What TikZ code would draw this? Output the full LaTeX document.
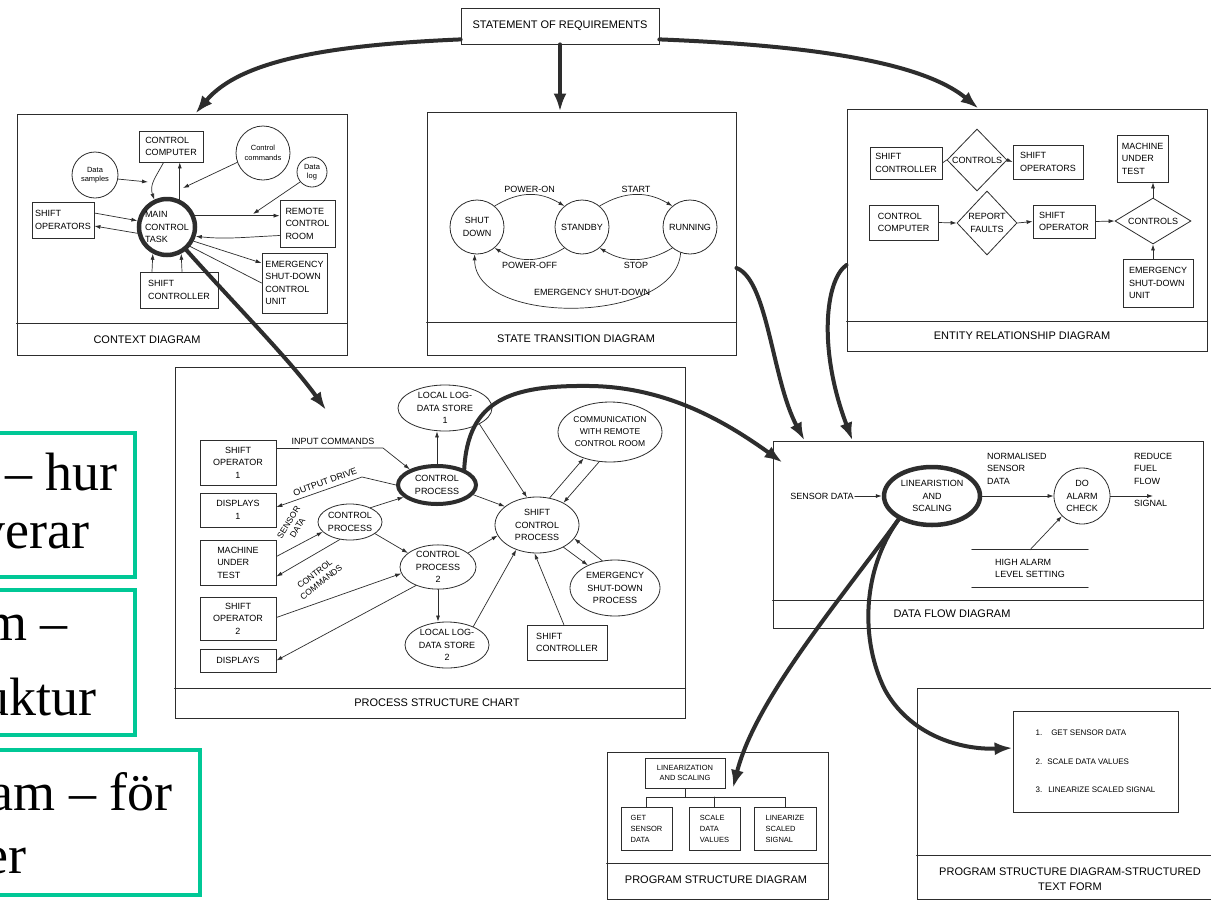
\documentclass[tikz,border=0pt]{standalone}
\usepackage{fontspec}
\setmainfont{Liberation Sans}
\newfontfamily\serfont{Liberation Serif}
\usepackage{tikz}
\usetikzlibrary{arrows.meta,calc,shapes.geometric}
\definecolor{notegreen}{RGB}{0,200,150}
\definecolor{inkgrey}{RGB}{45,45,45}
\newcommand{\lblfont}{\fontsize{9}{12.5}\selectfont}
\newcommand{\ttlfont}{\fontsize{11}{14.5}\selectfont}
\newcommand{\smlfont}{\fontsize{7.5}{9.5}\selectfont}

\begin{document}
\begin{tikzpicture}[x=1pt,y=-1pt,>=Latex,line cap=round,
 panel/.style={draw=inkgrey,line width=1pt,inner sep=0pt},
 divider/.style={draw=inkgrey,line width=1pt},
 ttl/.style={font=\ttlfont,inner sep=1pt},
 lbl/.style={font=\lblfont,inner sep=1pt},
 ebox/.style={draw=inkgrey,line width=.8pt,font=\lblfont,align=left,inner sep=2pt},
 proc/.style={draw=inkgrey,ellipse,line width=.8pt,font=\lblfont,align=center,inner sep=0pt},
 circnode/.style={draw=inkgrey,circle,line width=.8pt,font=\lblfont,align=center,inner sep=0pt},
 rel/.style={draw=inkgrey,diamond,line width=.8pt,font=\lblfont,align=center,inner sep=0pt},
 link/.style={draw=inkgrey,line width=.7pt},
 flow/.style={link,-{Latex[length=6pt,width=4pt]}},
 bigflow/.style={draw=inkgrey,line width=4pt,-{Latex[length=18pt,width=13pt]}},
 note/.style={draw=notegreen,line width=4pt},
 notetxt/.style={font=\serfont\fontsize{54}{60}\selectfont,anchor=base east,inner sep=0pt}]
\useasboundingbox (0,0) rectangle (1211,900);
\fill[white] (0,0) rectangle (1211,900);

\draw[note] (-20,433) rectangle (135,577);
\draw[note] (-20,590) rectangle (135,735);
\draw[note] (-20,750) rectangle (200,895);
\node[notetxt] (n1a) at (118,490) {– hur};
\node[notetxt] (n1b) at (90,548) {verar};
\node[notetxt] (n2a) at (68,640) {m –};
\node[notetxt] (n2b) at (97,715) {uktur};
\node[notetxt] (n3a) at (173,810) {am – för};
\node[notetxt] (n3b) at (27,873) {er};

\node[ebox,font=\ttlfont,align=center,minimum width=198,minimum height=36] (req) at (560,26) {STATEMENT OF REQUIREMENTS};

\node[panel,minimum width=330,minimum height=241] (ctx) at (182,234.5) {};
\draw[divider] ([yshift=32pt]ctx.south west) -- ([yshift=32pt]ctx.south east);
\node[ttl] (ctxt) at (147,340) {CONTEXT DIAGRAM};
\node[ebox,minimum width=64,minimum height=31] (ccomp) at (171,146.5) {CONTROL\\COMPUTER};
\node[circnode,font=\smlfont,minimum size=54] (ccmd) at (263,153) {Control\\commands};
\node[circnode,font=\smlfont,minimum size=30] (dlog) at (312,172) {Data\\log};
\node[circnode,font=\smlfont,minimum size=46] (dsamp) at (95,175) {Data\\samples};
\node[ebox,minimum width=62,minimum height=36] (sops) at (63,220) {SHIFT\\OPERATORS};
\node[circnode,line width=4.5pt,align=left,minimum size=56] (mtask) at (167,227) {MAIN\\CONTROL\\TASK};
\node[ebox,minimum width=55,minimum height=47] (rroom) at (307.5,223.5) {REMOTE\\CONTROL\\ROOM};
\node[ebox,minimum width=65,minimum height=60] (esdu) at (294.5,283) {EMERGENCY\\SHUT-DOWN\\CONTROL\\UNIT};
\node[ebox,minimum width=78,minimum height=36] (sctl) at (179,290) {SHIFT\\CONTROLLER};
\coordinate (cjoin) at (148,182);
\coordinate (cin) at (183,188);
\coordinate (rjoin) at (253,214);
\draw[flow] (dsamp.-10) -- (cjoin);
\draw[flow] (ccomp.-115) .. controls +(-8,15) and +(-5,-15) .. (mtask.115);
\draw[flow] (mtask.65) -- (mtask.65 |- ccomp.south);
\draw[flow] (ccmd.200) -- (cin);
\draw[flow] (dlog.220) -- (rjoin);
\draw[flow] ([yshift=7pt]sops.east) -- (mtask.168);
\draw[flow] (mtask.192) -- ([yshift=-6pt]sops.east);
\draw[flow] (mtask.22) -- (mtask.22 -| rroom.west);
\draw[flow] ([yshift=-12pt]rroom.west) .. controls +(-40,2) and +(30,3) .. (mtask.-18);
\draw[flow] (mtask.-28) -- ([yshift=20pt]esdu.west);
\draw[link] (mtask.-40) -- (esdu.west);
\draw[flow] ([xshift=-27pt]sctl.north) -- (mtask.-118);
\draw[flow] ([xshift=3pt]sctl.north) -- (mtask.-62);

\node[panel,minimum width=309,minimum height=243] (std) at (581.5,233.5) {};
\draw[divider] ([yshift=33pt]std.south west) -- ([yshift=33pt]std.south east);
\node[ttl] (stdt) at (576,339) {STATE TRANSITION DIAGRAM};
\node[circnode,minimum size=54] (sdown) at (477,227) {SHUT\\DOWN};
\node[circnode,minimum size=54] (stby) at (582,227) {STANDBY};
\node[circnode,minimum size=54] (run) at (690,227) {RUNNING};
\draw[flow] (sdown.50) .. controls +(25,-15) and +(-25,-15) .. node[lbl,above=1pt] (lpon) {POWER-ON} (stby.130);
\draw[flow] (stby.50) .. controls +(25,-15) and +(-25,-15) .. node[lbl,above=1pt] (lstart) {START} (run.130);
\draw[flow] (stby.-130) .. controls +(-25,15) and +(25,15) .. node[lbl,below=2pt] (lpoff) {POWER-OFF} (sdown.-50);
\draw[flow] (run.-130) .. controls +(-25,15) and +(25,15) .. node[lbl,below=2pt] (lstop) {STOP} (stby.-50);
\draw[flow] (run.-110) .. controls +(-5,72) and +(0,72) .. (sdown.-95);
\node[lbl] (lesd) at (592,292) {EMERGENCY SHUT-DOWN};

\node[panel,minimum width=360,minimum height=242] (erd) at (1027,230) {};
\draw[divider] ([yshift=30pt]erd.south west) -- ([yshift=30pt]erd.south east);
\node[ttl] (erdt) at (1022,336) {ENTITY RELATIONSHIP DIAGRAM};
\node[ebox,minimum width=72,minimum height=32] (erctl) at (906,163) {SHIFT\\CONTROLLER};
\node[rel,minimum width=60,minimum height=62] (erc1) at (977,160) {CONTROLS};
\node[ebox,minimum width=70,minimum height=34] (ersop) at (1048,162) {SHIFT\\OPERATORS};
\node[ebox,minimum width=69,minimum height=35] (ercomp) at (903.5,222.5) {CONTROL\\COMPUTER};
\node[rel,minimum width=60,minimum height=64] (erfault) at (987,223) {REPORT\\FAULTS};
\node[ebox,minimum width=62,minimum height=33] (ersop1) at (1064,221.5) {SHIFT\\OPERATOR};
\node[rel,aspect=1.65,minimum width=76,minimum height=46] (erc2) at (1153,221) {CONTROLS};
\node[ebox,minimum width=51,minimum height=47] (ermach) at (1142.5,158.5) {MACHINE\\UNDER\\TEST};
\node[ebox,minimum width=70,minimum height=48] (eresd) at (1158,283) {EMERGENCY\\SHUT-DOWN\\UNIT};
\draw[link] (erctl.east) -- (erc1.west);
\draw[flow] (erc1.east) -- (ersop.west);
\draw[flow] (ercomp.east) -- (erfault.west);
\draw[flow] (erfault.east) -- (ersop1.west);
\draw[flow] (ersop1.east) -- (erc2.west);
\draw[flow] (erc2.north) -- (erc2.north |- ermach.south);
\draw[flow] (erc2.south |- eresd.north) -- (erc2.south);

\node[panel,minimum width=510,minimum height=351] (psc) at (430,542.5) {};
\draw[divider] ([yshift=30pt]psc.south west) -- ([yshift=30pt]psc.south east);
\node[ttl] (psct) at (437,703) {PROCESS STRUCTURE CHART};
\node[ebox,align=center,minimum width=76,minimum height=45] (pso1) at (238,462.5) {SHIFT\\OPERATOR\\1};
\node[ebox,align=center,minimum width=76,minimum height=34] (pdisp1) at (238,510) {DISPLAYS\\1};
\node[ebox,minimum width=76,minimum height=45] (pmach) at (238,562.5) {MACHINE\\UNDER\\TEST};
\node[ebox,align=center,minimum width=76,minimum height=43] (pso2) at (238,618.5) {SHIFT\\OPERATOR\\2};
\node[ebox,align=center,minimum width=76,minimum height=23] (pdisp) at (238,660.5) {DISPLAYS};
\node[proc,minimum width=94,minimum height=46] (plog1) at (445,408) {LOCAL LOG-\\DATA STORE\\1};
\node[proc,line width=4pt,minimum width=78,minimum height=38] (pcp) at (437,485) {CONTROL\\PROCESS};
\node[proc,minimum width=64,minimum height=36] (pcpa) at (350,522) {CONTROL\\PROCESS};
\node[proc,minimum width=76,minimum height=44] (pcp2) at (438,567) {CONTROL\\PROCESS\\2};
\node[proc,minimum width=84,minimum height=56] (pscp) at (537,525) {SHIFT\\CONTROL\\PROCESS};
\node[proc,font=\fontsize{8.5}{12}\selectfont,minimum width=104,minimum height=60] (pcomm) at (610,432) {COMMUNICATION\\WITH REMOTE\\CONTROL ROOM};
\node[proc,minimum width=90,minimum height=56] (pesd) at (615,588) {EMERGENCY\\SHUT-DOWN\\PROCESS};
\node[proc,minimum width=84,minimum height=46] (plog2) at (447,645) {LOCAL LOG-\\DATA STORE\\2};
\node[ebox,minimum width=80,minimum height=35] (psctl) at (567,642.5) {SHIFT\\CONTROLLER};
\draw[flow] ([yshift=14pt]pso1.east) -- (383,448) -- (pcp.150);
\node[lbl] (licmd) at (333,441) {INPUT COMMANDS};
\draw[flow] (pcp.west) -- (362,477) -- ([yshift=3pt]pdisp1.east);
\node[lbl,rotate=20] (lodrv) at (325,482) {OUTPUT DRIVE};
\draw[flow] (pcp.north) -- (pcp.north |- plog1.south);
\draw[flow] (pcp.-15) -- (pscp.150);
\draw[flow] (plog1.-25) -- (pscp.110);
\draw[flow] (pcpa.35) -- (pcp.-160);
\draw[flow] ([yshift=6pt]pmach.east) -- (pcpa.200);
\node[lbl,rotate=58,align=center,font=\fontsize{8.5}{10.5}\selectfont] (lsens) at (293,525) {SENSOR\\DATA};
\draw[flow] (pcpa.-120) -- ([yshift=-14pt]pmach.east);
\node[lbl,rotate=38,align=center,font=\fontsize{8.5}{10.5}\selectfont] (lccmd) at (318,578) {CONTROL\\COMMANDS};
\draw[flow] (pcpa.-25) -- (pcp2.155);
\draw[flow] ([yshift=1pt]pso2.east) -- (pcp2.190);
\draw[flow] (pcp2.-140) -- (pdisp.east);
\draw[flow] (pcp2.south) -- (pcp2.south |- plog2.north);
\draw[flow] (pcp2.25) -- (pscp.-165);
\draw[flow] (plog2.35) -- (pscp.-130);
\draw[flow] (psctl.100) -- (pscp.-95);
\draw[flow] (pscp.65) -- (pcomm.-135);
\draw[flow] (pcomm.-110) -- (pscp.40);
\draw[flow] (pscp.-40) -- (pesd.140);
\draw[flow] (pesd.115) -- (pscp.-20);

\node[panel,minimum width=430,minimum height=187] (dfd) at (988,534.5) {};
\draw[divider] ([yshift=28pt]dfd.south west) -- ([yshift=28pt]dfd.south east);
\node[ttl] (dfdt) at (952,614) {DATA FLOW DIAGRAM};
\node[lbl] (dsens) at (822,496) {SENSOR DATA};
\node[proc,line width=4.5pt,minimum width=96,minimum height=58] (dlin) at (932,496) {LINEARISTION\\AND\\SCALING};
\node[circnode,minimum size=56] (dalarm) at (1082,496) {DO\\ALARM\\CHECK};
\node[lbl,align=left,anchor=north west] (dnorm) at (986,452) {NORMALISED\\SENSOR\\DATA};
\node[lbl,align=left,anchor=north west] (dreduce) at (1133,452) {REDUCE\\FUEL\\FLOW\\[10pt]SIGNAL};
\coordinate (dout) at (1153,496);
\node[lbl,align=left,minimum width=116,minimum height=37,inner sep=0pt] (dstore) at (1030,568.5) {HIGH ALARM\\LEVEL SETTING};
\draw[link] (dstore.north west) -- (dstore.north east) (dstore.south west) -- (dstore.south east);
\draw[flow] (dsens.east) -- (dlin.west);
\draw[flow] (dlin.east) -- (dalarm.west);
\draw[flow] (dalarm.east) -- (dout);
\draw[flow] (dstore.north) -- (dalarm.-135);

\node[panel,minimum width=221,minimum height=147] (psd) at (717.5,825.5) {};
\draw[divider] ([yshift=36pt]psd.south west) -- ([yshift=36pt]psd.south east);
\node[ttl] (psdt) at (716,880) {PROGRAM STRUCTURE DIAGRAM};
\node[ebox,font=\smlfont,align=center,minimum width=80,minimum height=30] (plin) at (685,773) {LINEARIZATION\\AND SCALING};
\node[ebox,font=\fontsize{7.5}{11}\selectfont,minimum width=51,minimum height=43] (pget) at (646.5,828.5) {GET\\SENSOR\\DATA};
\node[ebox,font=\fontsize{7.5}{11}\selectfont,minimum width=51,minimum height=43] (pscale) at (714.5,828.5) {SCALE\\DATA\\VALUES};
\node[ebox,font=\fontsize{7.5}{11}\selectfont,minimum width=62,minimum height=43] (plinz) at (785,828.5) {LINEARIZE\\SCALED\\SIGNAL};
\coordinate (tbar) at (0,797);
\draw[link] (plin.south) -- (plin.south |- tbar);
\draw[link] (pget.north) |- (plinz.north |- tbar) -- (plinz.north);
\draw[link] (pscale.north) -- (pscale.north |- tbar);

\node[panel,minimum width=298,minimum height=211] (pst) at (1066,793.5) {};
\draw[divider] ([yshift=44pt]pst.south west) -- ([yshift=44pt]pst.south east);
\node[ttl,align=center] (pstt) at (1070,879) {PROGRAM STRUCTURE DIAGRAM-STRUCTURED\\TEXT FORM};
\node[ebox,font=\fontsize{8}{9.5}\selectfont,minimum width=165,minimum height=101] (pstxt) at (1095.5,761.5) {1.\hspace{9pt}GET SENSOR DATA\\[19pt]2.\hspace{5pt}SCALE DATA VALUES\\[19pt]3.\hspace{6pt}LINEARIZE SCALED SIGNAL};

\coordinate (pscin) at (326,410);
\coordinate (psdin) at (733,788);
\draw[bigflow] ([yshift=5pt]req.south west) .. controls (330,45) and (240,60) .. ([xshift=179pt]ctx.north west);
\draw[bigflow] (req.south) -- (req.south |- std.north);
\draw[bigflow] ([yshift=5pt]req.south east) .. controls (800,45) and (920,60) .. ([xshift=132pt]erd.north west);
\draw[bigflow] (mtask.-50) .. controls (240,310) and (290,360) .. (pscin);
\draw[bigflow] (pcp.30) .. controls (468,400) and (510,385) .. (590,386) .. controls (670,387) and (730,425) .. ([shift={(10pt,-22pt)}]dfd.north west);
\draw[bigflow] ([yshift=-34.5pt]std.east) .. controls (768,280) and (772,380) .. ([xshift=32pt]dfd.north west);
\draw[bigflow] ([yshift=-35pt]erd.west) .. controls (825,280) and (818,350) .. ([xshift=80pt]dfd.north west);
\draw[bigflow] (dlin.-145) .. controls (840,600) and (755,700) .. (psdin);
\draw[bigflow] (dlin.-145) .. controls (862,570) and (860,640) .. (885,690) .. controls (910,735) and (960,750) .. ([yshift=13.5pt]pstxt.west);
\end{tikzpicture}
\end{document}
